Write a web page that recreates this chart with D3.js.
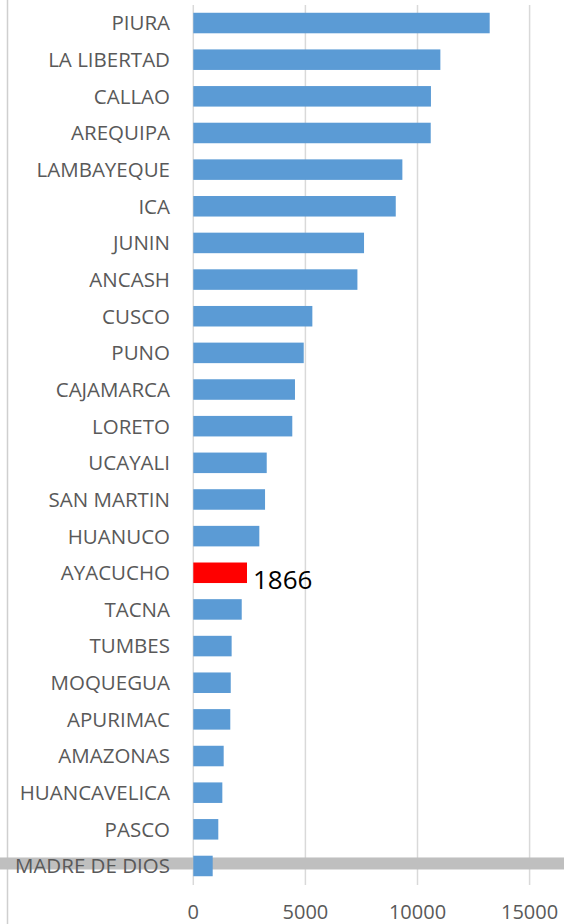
<!DOCTYPE html>
<html>
<head>
<meta charset="utf-8">
<script src="https://cdn.jsdelivr.net/npm/d3@7"></script>
<style>
  html, body { margin: 0; padding: 0; background: #fff; }
  svg { display: block; font-family: "Open Sans", sans-serif; }
</style>
</head>
<body>
<div id="chartContainer"></div>
<script>
var regions = ['PIURA', 'LA LIBERTAD', 'CALLAO', 'AREQUIPA', 'LAMBAYEQUE', 'ICA', 'JUNIN', 'ANCASH',
               'CUSCO', 'PUNO', 'CAJAMARCA', 'LORETO', 'UCAYALI', 'SAN MARTIN', 'HUANUCO', 'AYACUCHO',
               'TACNA', 'TUMBES', 'MOQUEGUA', 'APURIMAC', 'AMAZONAS', 'HUANCAVELICA', 'PASCO', 'MADRE DE DIOS']
var values = [13220, 11020, 10600, 10590, 9325, 9030, 7615, 7320,
              5310, 4925, 4535, 4415, 3275, 3200, 2945, 2395,
              2160, 1710, 1670, 1650, 1355, 1295, 1115, 865]
var highlighted = 'AYACUCHO'
var highlightLabel = '1866'
var xTicks = [0, 5000, 10000, 15000]

var width = 564, height = 924

function renderBars() {
    var svg = d3.select('#chartContainer').append('svg')
        .attr('width', width)
        .attr('height', height)

    var xScale = d3.scaleLinear()
        .domain([0, 15000])
        .range([193.3, 529.6])

    var yScale = d3.scaleBand()
        .domain(regions)
        .range([4.7, 884.3])
        .paddingInner(0.44)
        .paddingOuter(0.22)

    var data = regions.map(function(r, i) { return { name: r, value: values[i] } })

    // left border line
    svg.append('line')
        .attr('x1', 7.5).attr('x2', 7.5)
        .attr('y1', 0).attr('y2', height)
        .style('stroke', '#cfcfcf')
        .style('stroke-width', 1.5)

    // gridlines
    svg.selectAll('.grid')
        .data(xTicks)
        .enter()
        .append('line')
        .attr('class', 'grid')
        .attr('x1', function(d) { return xScale(d) })
        .attr('x2', function(d) { return xScale(d) })
        .attr('y1', 5)
        .attr('y2', 885)
        .style('stroke', '#d9d9d9')
        .style('stroke-width', 1.5)

    // grey band across the last row
    var last = regions[regions.length - 1]
    svg.append('rect')
        .attr('x', 0)
        .attr('y', yScale(last) + yScale.bandwidth() / 2 - 8.5)
        .attr('width', width)
        .attr('height', 12)
        .style('fill', '#bfbfbf')

    svg.selectAll('.bar')
        .data(data)
        .enter()
        .append('rect')
        .attr('class', 'bar')
        .attr('x', xScale(0))
        .attr('y', function(d) { return yScale(d.name) })
        .attr('width', function(d) { return xScale(d.value) - xScale(0) })
        .attr('height', yScale.bandwidth())
        .style('fill', function(d) { return d.name === highlighted ? '#ff0000' : '#5b9bd5' })

    svg.selectAll('.cat')
        .data(data)
        .enter()
        .append('text')
        .attr('class', 'cat')
        .attr('x', 170)
        .attr('y', function(d) { return yScale(d.name) + yScale.bandwidth() / 2 })
        .attr('dy', '0.36em')
        .attr('text-anchor', 'end')
        .style('font-size', '20.5px')
        .style('fill', '#595959')
        .text(function(d) { return d.name })

    var hv = values[regions.indexOf(highlighted)]
    svg.append('text')
        .attr('x', xScale(hv) + 6)
        .attr('y', yScale(highlighted) + yScale.bandwidth() / 2 + 16)
        .style('font-size', '26px')
        .style('fill', '#000')
        .text(highlightLabel)

    svg.selectAll('.tick')
        .data(xTicks)
        .enter()
        .append('text')
        .attr('class', 'tick')
        .attr('x', function(d) { return xScale(d) })
        .attr('y', 919)
        .attr('text-anchor', 'middle')
        .style('font-size', '20px')
        .style('fill', '#595959')
        .text(function(d) { return d })
}

renderBars()
</script>
</body>
</html>
